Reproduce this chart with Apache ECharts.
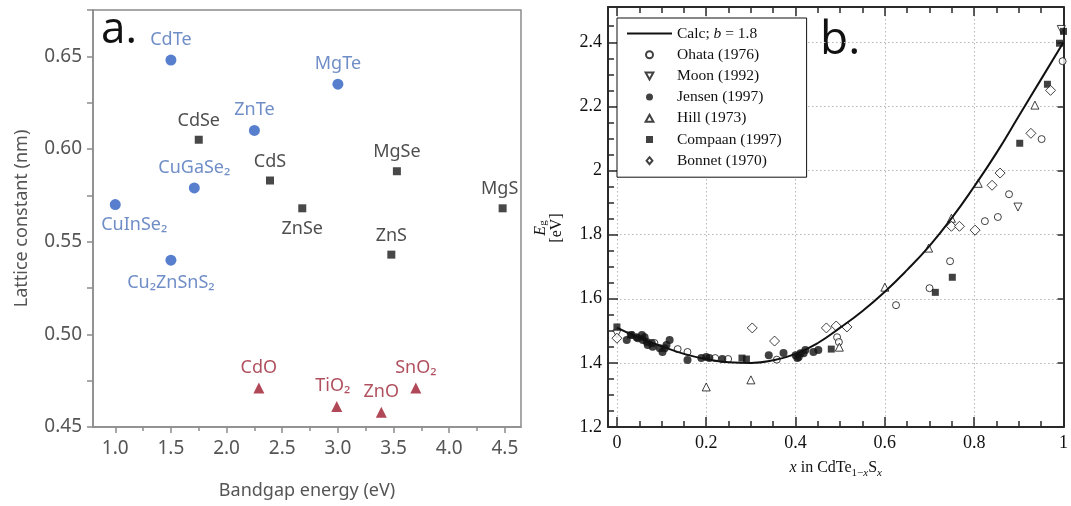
<!DOCTYPE html>
<html>
<head>
<meta charset="utf-8">
<script src="https://cdn.jsdelivr.net/npm/echarts@6/dist/echarts.min.js"></script>
<style>
  html, body { margin: 0; padding: 0; background: #fff; }
  #chart { width: 1071px; height: 506px; }
</style>
</head>
<body>
<div id="chart"></div>
<script>
// ---- panel a: lattice constant vs bandgap ----
const blueNames = ['CdTe', 'ZnTe', 'MgTe', 'CuGaSe₂', 'CuInSe₂', 'Cu₂ZnSnS₂'];
const blueGap = [1.5, 2.25, 3.0, 1.71, 1.0, 1.5];
const blueLattice = [0.648, 0.610, 0.635, 0.579, 0.570, 0.540];

const blackNames = ['CdSe', 'CdS', 'ZnSe', 'MgSe', 'ZnS', 'MgS'];
const blackGap = [1.75, 2.39, 2.68, 3.53, 3.48, 4.48];
const blackLattice = [0.605, 0.583, 0.568, 0.588, 0.543, 0.568];

const redNames = ['CdO', 'TiO₂', 'ZnO', 'SnO₂'];
const redGap = [2.29, 2.99, 3.39, 3.70];
const redLattice = [0.471, 0.461, 0.458, 0.471];

const aXTicks = [1.0, 1.5, 2.0, 2.5, 3.0, 3.5, 4.0, 4.5];
const aXMinorTicks = [1.25, 1.75, 2.25, 2.75, 3.25, 3.75, 4.25];

// ---- panel b: Eg of CdTe(1-x)S(x) ----
const calcX = [0, 0.05, 0.1, 0.15, 0.2, 0.25, 0.3, 0.35, 0.4, 0.45, 0.5, 0.55, 0.6, 0.65, 0.7, 0.75, 0.8, 0.85, 0.9, 0.95, 1.0];
const calcY = [1.51, 1.478, 1.452, 1.428, 1.412, 1.402, 1.400, 1.408, 1.428, 1.462, 1.51, 1.562, 1.622, 1.69, 1.765, 1.852, 1.95, 2.055, 2.17, 2.285, 2.40];

const ohataX = [0.084, 0.136, 0.158, 0.22, 0.249, 0.358, 0.493, 0.497, 0.625, 0.70, 0.746, 0.824, 0.853, 0.878, 0.951, 0.998];
const ohataY = [1.462, 1.443, 1.434, 1.415, 1.412, 1.41, 1.48, 1.465, 1.58, 1.633, 1.717, 1.842, 1.855, 1.926, 2.098, 2.341];

const moonX = [0.0, 0.898, 0.995];
const moonY = [1.49, 1.886, 2.44];

const jensenX = [0.022, 0.033, 0.044, 0.047, 0.056, 0.058, 0.062, 0.067, 0.069, 0.078, 0.080, 0.096, 0.102, 0.107, 0.111, 0.118,
  0.158, 0.189, 0.20, 0.207, 0.236, 0.34, 0.373, 0.40, 0.404, 0.407, 0.411, 0.418, 0.422, 0.44, 0.451];
const jensenY = [1.471, 1.487, 1.48, 1.477, 1.487, 1.471, 1.48, 1.465, 1.456, 1.462, 1.45, 1.446, 1.434, 1.446, 1.456, 1.471,
  1.409, 1.415, 1.418, 1.415, 1.412, 1.424, 1.431, 1.424, 1.415, 1.418, 1.43, 1.43, 1.44, 1.434, 1.44];

const hillX = [0.2, 0.3, 0.498, 0.60, 0.698, 0.749, 0.809, 0.936];
const hillY = [1.325, 1.347, 1.449, 1.636, 1.758, 1.851, 1.96, 2.204];

const compaanX = [0.0, 0.03, 0.28, 0.29, 0.48, 0.713, 0.751, 0.902, 0.964, 0.991, 1.0];
const compaanY = [1.512, 1.487, 1.415, 1.412, 1.443, 1.62, 1.667, 2.085, 2.269, 2.397, 2.434];

const bonnetX = [0.0, 0.303, 0.353, 0.469, 0.491, 0.515, 0.749, 0.767, 0.802, 0.84, 0.858, 0.927, 0.971];
const bonnetY = [1.477, 1.509, 1.468, 1.509, 1.515, 1.512, 1.826, 1.826, 1.814, 1.954, 1.992, 2.116, 2.25];

const bXTicks = [0, 0.2, 0.4, 0.6, 0.8, 1.0];
const bXMinorTicks = [0.05, 0.1, 0.15, 0.25, 0.3, 0.35, 0.45, 0.5, 0.55, 0.65, 0.7, 0.75, 0.85, 0.9, 0.95];
const bYTicks = [1.2, 1.4, 1.6, 1.8, 2.0, 2.2, 2.4];
const bYMinorTicks = [1.25, 1.3, 1.35, 1.45, 1.5, 1.55, 1.65, 1.7, 1.75, 1.85, 1.9, 1.95, 2.05, 2.1, 2.15, 2.25, 2.3, 2.35, 2.45];

// label placement for panel a (default: above the point)
const labelPlacement = {
  'CuInSe₂': { position: 'bottom', distance: 6, offset: [19, 0] },
  'Cu₂ZnSnS₂': { position: 'bottom', distance: 8 },
  'ZnSe': { position: 'bottom', distance: 8 },
  'MgS': { offset: [-3, 0] },
  'TiO₂': { offset: [-4, 0] }
};

// legend icons as paths so they keep their aspect inside the 45px-wide slot
const ICON = {
  line: 'path://M0,0L45,0L45,2L0,2Z',
  up: 'path://M5,0L10,9L0,9Z',
  down: 'path://M0,0L10,0L5,9Z',
  square: 'path://M0,0L10,0L10,10L0,10Z',
  diamond: 'path://M5,0L10,6L5,12L0,6Z'
};

const SANS = 'Noto Sans';
const SERIF = 'Liberation Serif';
const aGray = '#8c8c8c';
const bInk = '#2a2a2a';

function pairs(xs, ys) {
  return xs.map((x, i) => [x, ys[i]]);
}

function labelled(names, xs, ys) {
  return names.map((n, i) => Object.assign({ name: n, value: [xs[i], ys[i]] },
    labelPlacement[n] ? { label: labelPlacement[n] } : {}));
}

function aScatter(names, xs, ys, symbol, size, dot, text) {
  return {
    type: 'scatter', xAxisIndex: 0, yAxisIndex: 0,
    symbol: symbol, symbolSize: size,
    itemStyle: { color: dot },
    label: {
      show: true, position: 'top', distance: 6, formatter: '{b}',
      color: text, fontSize: 18, fontFamily: SANS
    },
    data: labelled(names, xs, ys)
  };
}

function bScatter(name, xs, ys, symbol, size, filled, rotate) {
  return {
    name: name, type: 'scatter', xAxisIndex: 2, yAxisIndex: 2,
    symbol: symbol, symbolSize: size, symbolRotate: rotate || 0,
    itemStyle: filled ? { color: '#111' } : { color: '#fff', borderColor: '#111', borderWidth: 1 },
    data: pairs(xs, ys)
  };
}

function tickAxis(base, values, length, inside, color, width) {
  return Object.assign({
    type: 'value',
    axisLine: { show: false, onZero: false },
    axisTick: { show: true, customValues: values, length: length, inside: inside, lineStyle: { color: color, width: width } },
    axisLabel: { show: false },
    splitLine: { show: false }
  }, base);
}

const bNum = v => String(+v.toFixed(1));

const chart = echarts.init(document.getElementById('chart'));

chart.setOption({
  animation: false,
  backgroundColor: '#fff',
  grid: [
    { left: 93, top: 10, width: 428, height: 417, show: true, borderColor: aGray, borderWidth: 1.5 },
    { left: 608, top: 7, width: 461, height: 420 }
  ],
  xAxis: [
    {
      gridIndex: 0, type: 'value', min: 0.8, max: 4.645, position: 'bottom',
      axisLine: { onZero: false, lineStyle: { color: aGray, width: 1.5 } },
      axisTick: { customValues: aXTicks, length: 6, lineStyle: { color: aGray, width: 1.5 } },
      axisLabel: { customValues: aXTicks, formatter: v => v.toFixed(1), margin: 12, color: '#555', fontSize: 19, fontFamily: SANS },
      splitLine: { show: false },
      name: 'Bandgap energy (eV)', nameLocation: 'middle', nameGap: 55,
      nameTextStyle: { color: '#555', fontSize: 18, fontFamily: SANS }
    },
    tickAxis({ gridIndex: 0, min: 0.8, max: 4.645, position: 'bottom' }, aXMinorTicks, 4, false, aGray, 1.5),
    {
      gridIndex: 1, type: 'value', min: -0.02, max: 1.0, position: 'bottom',
      axisLine: { onZero: false, lineStyle: { color: bInk, width: 2 } },
      axisTick: { customValues: bXTicks, length: 10, inside: true, lineStyle: { color: bInk, width: 1.5 } },
      axisLabel: { customValues: bXTicks, formatter: bNum, margin: 7, color: '#111', fontSize: 18, fontFamily: SERIF },
      splitLine: { show: true, lineStyle: { color: '#b5b5b5', width: 1, type: [1.5, 2.5] } },
      name: '{i|x}{n| in CdTe}{s|1−}{si|x}{n|S}{si|x}', nameLocation: 'middle', nameGap: 30,
      nameTextStyle: {
        color: '#111', fontSize: 16, fontFamily: SERIF,
        rich: {
          n: { fontSize: 16, fontFamily: SERIF, color: '#111', lineHeight: 22 },
          i: { fontSize: 16, fontFamily: SERIF, fontStyle: 'italic', color: '#111', lineHeight: 22 },
          s: { fontSize: 11, fontFamily: SERIF, color: '#111', verticalAlign: 'bottom', lineHeight: 12 },
          si: { fontSize: 11, fontFamily: SERIF, fontStyle: 'italic', color: '#111', verticalAlign: 'bottom', lineHeight: 12 }
        }
      }
    },
    tickAxis({ gridIndex: 1, min: -0.02, max: 1.0, position: 'bottom' }, bXMinorTicks, 6, true, bInk, 1.5),
    Object.assign(tickAxis({ gridIndex: 1, min: -0.02, max: 1.0, position: 'top' }, bXTicks, 9, true, bInk, 1.5),
      { axisLine: { show: true, onZero: false, lineStyle: { color: bInk, width: 2 } } }),
    tickAxis({ gridIndex: 1, min: -0.02, max: 1.0, position: 'top' }, bXMinorTicks, 6, true, bInk, 1.5)
  ],
  yAxis: [
    {
      gridIndex: 0, type: 'value', min: 0.45, max: 0.675, interval: 0.025, position: 'left',
      axisLine: { onZero: false, lineStyle: { color: aGray, width: 1.5 } },
      axisTick: { length: 6, lineStyle: { color: aGray, width: 1.5 } },
      axisLabel: {
        formatter: v => { const k = Math.round(v * 1000); return k % 50 === 0 ? (k / 1000).toFixed(2) : ''; },
        margin: 11, color: '#555', fontSize: 19, fontFamily: SANS
      },
      splitLine: { show: false },
      name: 'Lattice constant (nm)', nameLocation: 'middle', nameGap: 62, nameRotate: 90,
      nameTextStyle: { color: '#555', fontSize: 18, fontFamily: SANS }
    },
    {
      gridIndex: 1, type: 'value', min: 1.2, max: 2.51, position: 'left',
      axisLine: { onZero: false, lineStyle: { color: bInk, width: 2 } },
      axisTick: { customValues: bYTicks, length: 10, inside: true, lineStyle: { color: bInk, width: 1.5 } },
      axisLabel: { customValues: bYTicks, formatter: bNum, margin: 6, color: '#111', fontSize: 18, fontFamily: SERIF },
      splitLine: { show: true, lineStyle: { color: '#b5b5b5', width: 1, type: [1.5, 2.5] } }
    },
    tickAxis({ gridIndex: 1, min: 1.2, max: 2.51, position: 'left' }, bYMinorTicks, 6, true, bInk, 1.5),
    Object.assign(tickAxis({ gridIndex: 1, min: 1.2, max: 2.51, position: 'right' }, bYTicks, 6, true, bInk, 1.5),
      { axisLine: { show: true, onZero: false, lineStyle: { color: bInk, width: 2 } } })
  ],
  legend: {
    left: 617, top: 18, orient: 'vertical',
    padding: [7, 25, 8, 10],
    itemWidth: 45, itemHeight: 7, itemGap: 4.2,
    symbolKeepAspect: true, symbolRotate: 0,
    backgroundColor: '#fff', borderColor: '#111', borderWidth: 1, borderRadius: 0,
    selectedMode: false,
    data: [
      { name: 'Calc; b = 1.8', icon: ICON.line },
      { name: 'Ohata (1976)', icon: 'circle' },
      { name: 'Moon (1992)', icon: ICON.down },
      { name: 'Jensen (1997)', icon: 'circle' },
      { name: 'Hill (1973)', icon: ICON.up },
      { name: 'Compaan (1997)', icon: ICON.square },
      { name: 'Bonnet (1970)', icon: ICON.diamond }
    ],
    formatter: n => {
      if (n.indexOf('Calc') !== 0) return n;
      const parts = n.split('b');
      return '{n|' + parts[0] + '}{i|b}{n|' + parts[1] + '}';
    },
    textStyle: {
      color: '#111', fontSize: 15.5, fontFamily: SERIF, lineHeight: 17,
      rich: {
        n: { color: '#111', fontSize: 15.5, fontFamily: SERIF, lineHeight: 17 },
        i: { color: '#111', fontSize: 15.5, fontFamily: SERIF, fontStyle: 'italic', lineHeight: 17 }
      }
    }
  },
  graphic: [
    { type: 'text', left: 101, top: 8, style: { text: 'a.', fill: '#111', font: '44px "Open Sans"' } },
    { type: 'text', left: 820, top: 18, style: { text: 'b.', fill: '#111', font: '46px "Open Sans"' } },
    {
      type: 'text', x: 549, y: 228, rotation: Math.PI / 2,
      style: {
        text: '{i|E}{s|g}\n{n|[eV]}', align: 'center', verticalAlign: 'middle', fill: '#111',
        rich: {
          n: { fontSize: 16, fontFamily: SERIF, fill: '#111', lineHeight: 16, align: 'center' },
          i: { fontSize: 16, fontFamily: SERIF, fontStyle: 'italic', fill: '#111', lineHeight: 16 },
          s: { fontSize: 11, fontFamily: SERIF, fill: '#111', lineHeight: 10, verticalAlign: 'bottom' }
        }
      }
    }
  ],
  series: [
    aScatter(blueNames, blueGap, blueLattice, 'circle', 11, '#2e5fc1', '#4b70b8'),
    aScatter(blackNames, blackGap, blackLattice, 'rect', 8, '#1a1a1a', '#222'),
    aScatter(redNames, redGap, redLattice, 'triangle', 11, '#9e1a2e', '#9c2436'),
    {
      name: 'Calc; b = 1.8', type: 'line', xAxisIndex: 2, yAxisIndex: 2,
      smooth: true, symbol: 'none', showSymbol: false,
      lineStyle: { color: '#111', width: 2 }, itemStyle: { color: '#111' },
      data: pairs(calcX, calcY)
    },
    bScatter('Ohata (1976)', ohataX, ohataY, 'circle', 7, false),
    bScatter('Moon (1992)', moonX, moonY, 'triangle', 8, false, 180),
    bScatter('Jensen (1997)', jensenX, jensenY, 'circle', 8, true),
    bScatter('Hill (1973)', hillX, hillY, 'triangle', 8, false),
    bScatter('Compaan (1997)', compaanX, compaanY, 'rect', 7, true),
    bScatter('Bonnet (1970)', bonnetX, bonnetY, 'diamond', 10, false)
  ]
});
</script>
</body>
</html>
